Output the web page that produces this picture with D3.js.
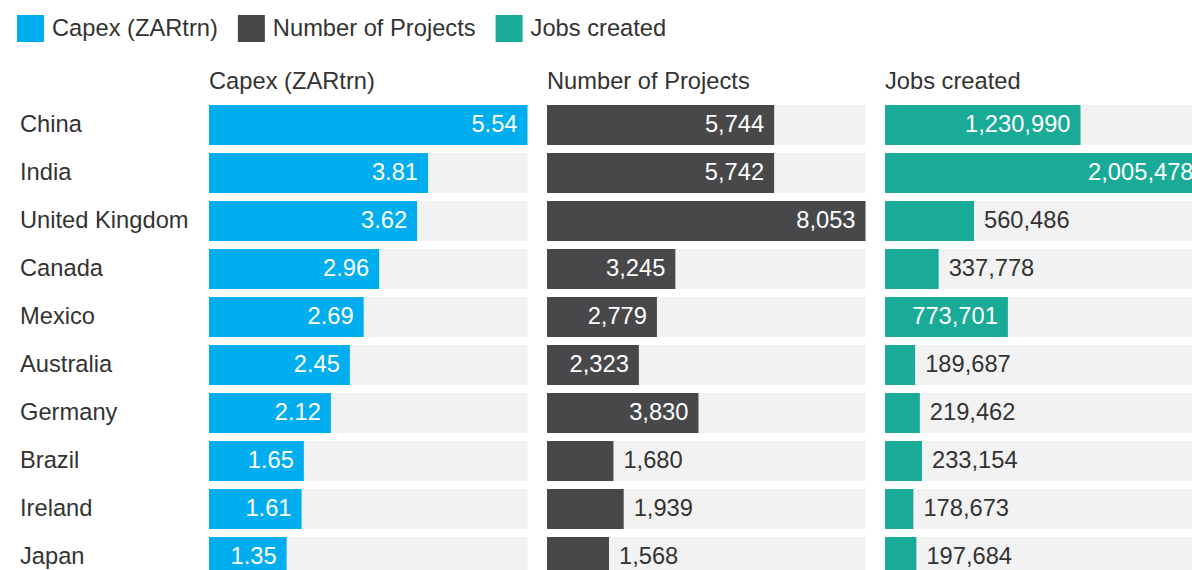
<!DOCTYPE html>
<html>
<head>
<meta charset="utf-8">
<script src="https://cdn.jsdelivr.net/npm/d3@7"></script>
<style>
  html, body { margin: 0; padding: 0; background: #fff; overflow: hidden; }
  svg { display: block; font-family: "Liberation Sans", Arial, Helvetica, sans-serif; }
</style>
</head>
<body>
<svg id="chart" width="1192" height="570"></svg>
<script>
// Top source countries: capital expenditure, project counts and jobs created
const countries = ["China", "India", "United Kingdom", "Canada", "Mexico",
                   "Australia", "Germany", "Brazil", "Ireland", "Japan"];
const capex    = [5.54, 3.81, 3.62, 2.96, 2.69, 2.45, 2.12, 1.65, 1.61, 1.35];
const projects = [5744, 5742, 8053, 3245, 2779, 2323, 3830, 1680, 1939, 1568];
const jobs     = [1230990, 2005478, 560486, 337778, 773701, 189687, 219462, 233154, 178673, 197684];
const seriesNames = ["Capex (ZARtrn)", "Number of Projects", "Jobs created"];
const seriesColors = ["#00aeef", "#48484a", "#19ab97"];

const panels = [
  { name: seriesNames[0], values: capex,    color: seriesColors[0], fmt: d3.format(".2f") },
  { name: seriesNames[1], values: projects, color: seriesColors[1], fmt: d3.format(",") },
  { name: seriesNames[2], values: jobs,     color: seriesColors[2], fmt: d3.format(",") }
];

const FONT = 23.7;
const textColor = "#333333";
const svg = d3.select("#chart");

// Measure text widths to decide whether a value label fits inside its bar
const measurer = svg.append("text").attr("font-size", FONT).attr("visibility", "hidden");
function textWidth(s) {
  measurer.text(s);
  return measurer.node().getComputedTextLength();
}

// Legend
let lx = 17;
const legend = svg.append("g");
seriesNames.forEach((name, i) => {
  legend.append("rect")
    .attr("x", lx).attr("y", 15).attr("width", 27).attr("height", 27)
    .attr("fill", seriesColors[i]);
  legend.append("text")
    .attr("x", lx + 35).attr("y", 35.5)
    .attr("font-size", FONT).attr("fill", textColor)
    .text(name);
  lx += 35 + textWidth(name) + 20;
});

// Row positions
const y = d3.scaleBand()
  .domain(countries)
  .range([101, 581])
  .paddingInner(1 / 6)
  .paddingOuter(1 / 12);

const baselineShift = 6.8;

// Country labels
svg.append("g").selectAll("text")
  .data(countries)
  .join("text")
  .attr("x", 20)
  .attr("y", d => y(d) + y.bandwidth() / 2 + baselineShift)
  .attr("font-size", FONT)
  .attr("fill", textColor)
  .text(d => d);

const panelX0 = 209, panelStep = 338, panelW = 318.5, pad = 10;

panels.forEach((p, pi) => {
  const x0 = panelX0 + pi * panelStep;
  const x = d3.scaleLinear().domain([0, d3.max(p.values)]).range([x0, x0 + panelW]);
  const g = svg.append("g");

  g.append("text")
    .attr("x", x0).attr("y", 88.5)
    .attr("font-size", FONT).attr("fill", textColor)
    .text(p.name);

  const rows = countries.map((c, i) => ({ c, v: p.values[i] }));

  // Light track behind each bar
  g.selectAll("rect.track")
    .data(rows)
    .join("rect")
    .attr("class", "track")
    .attr("x", x(0)).attr("y", d => y(d.c))
    .attr("width", x.range()[1] - x(0)).attr("height", y.bandwidth())
    .attr("fill", "#f2f2f2");

  g.selectAll("rect.bar")
    .data(rows)
    .join("rect")
    .attr("class", "bar")
    .attr("x", x(0)).attr("y", d => y(d.c))
    .attr("width", d => x(d.v) - x(0)).attr("height", y.bandwidth())
    .attr("fill", p.color);

  g.selectAll("text.val")
    .data(rows)
    .join("text")
    .attr("class", "val")
    .each(function(d) {
      const label = p.fmt(d.v);
      const w = textWidth(label);
      const barW = x(d.v) - x(0);
      const inside = w + 2 * pad < barW;
      d3.select(this)
        .attr("x", inside ? x(d.v) - pad : x(d.v) + pad)
        .attr("text-anchor", inside ? "end" : "start")
        .attr("fill", inside ? "#ffffff" : textColor)
        .text(label);
    })
    .attr("y", d => y(d.c) + y.bandwidth() / 2 + baselineShift)
    .attr("font-size", FONT);
});

measurer.remove();
</script>
</body>
</html>
